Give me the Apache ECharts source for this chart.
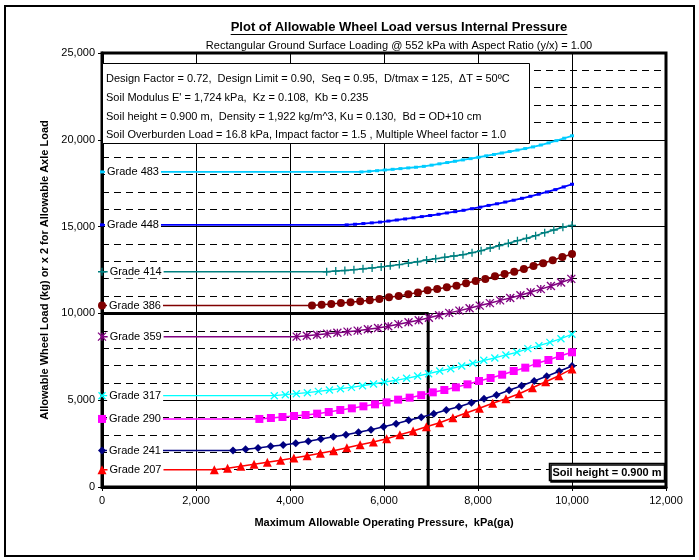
<!DOCTYPE html>
<html><head><meta charset="utf-8">
<script src="https://cdn.jsdelivr.net/npm/echarts@6/dist/echarts.min.js"></script>
<style>html,body{margin:0;padding:0;background:#fff}#c{width:699px;height:560px}</style>
</head><body><div id="c"></div>
<script>
// ---- Data ----
const xTicks = [0, 2000, 4000, 6000, 8000, 10000, 12000];
const yTicks = [0, 5000, 10000, 15000, 20000, 25000];

const g483X = [0, 5520, 5686, 5852, 6018, 6184, 6350, 6516, 6681, 6847, 7013, 7179, 7345, 7511, 7677, 7843, 8009, 8175, 8341, 8507, 8673, 8839, 9004, 9170, 9336, 9502, 9668, 9834, 10000];
const g483Y = [18150, 18150, 18185, 18220, 18260, 18300, 18340, 18380, 18420, 18470, 18540, 18615, 18690, 18765, 18840, 18915, 18995, 19075, 19155, 19240, 19325, 19410, 19495, 19590, 19700, 19820, 19950, 20090, 20230];

const g448X = [0, 5206, 5384, 5561, 5739, 5916, 6094, 6272, 6449, 6627, 6804, 6982, 7160, 7337, 7515, 7692, 7870, 8048, 8225, 8403, 8580, 8758, 8935, 9113, 9291, 9468, 9646, 9823, 10000];
const g448Y = [15100, 15100, 15135, 15175, 15215, 15260, 15320, 15380, 15440, 15505, 15575, 15640, 15710, 15785, 15860, 15940, 16030, 16120, 16220, 16315, 16415, 16520, 16630, 16745, 16865, 16995, 17130, 17285, 17440];

const g414X = [0, 4780, 4973, 5167, 5360, 5553, 5747, 5940, 6133, 6326, 6520, 6713, 6906, 7100, 7293, 7486, 7680, 7873, 8066, 8259, 8453, 8646, 8839, 9033, 9226, 9419, 9613, 9806, 10000];
const g414Y = [12400, 12400, 12440, 12470, 12520, 12570, 12620, 12680, 12740, 12810, 12900, 12975, 13076, 13152, 13230, 13307, 13383, 13498, 13613, 13767, 13901, 14036, 14190, 14325, 14478, 14651, 14805, 14958, 15074];

const g386X = [0, 4468, 4673, 4878, 5083, 5288, 5493, 5697, 5902, 6107, 6312, 6517, 6722, 6927, 7132, 7337, 7542, 7746, 7951, 8156, 8361, 8566, 8771, 8976, 9181, 9386, 9590, 9795, 10000];
const g386Y = [10450, 10450, 10503, 10541, 10599, 10637, 10695, 10753, 10829, 10925, 11002, 11110, 11210, 11329, 11406, 11502, 11598, 11733, 11866, 11982, 12136, 12270, 12404, 12558, 12730, 12885, 13057, 13249, 13422];

const g359X = [0, 4142, 4358, 4575, 4791, 5008, 5224, 5440, 5657, 5873, 6090, 6306, 6522, 6739, 6955, 7172, 7388, 7604, 7821, 8037, 8253, 8470, 8686, 8903, 9119, 9336, 9552, 9768, 9985];
const g359Y = [8660, 8660, 8717, 8775, 8833, 8890, 8948, 9006, 9083, 9159, 9260, 9380, 9486, 9610, 9750, 9890, 10030, 10160, 10300, 10450, 10590, 10750, 10890, 11050, 11220, 11400, 11580, 11780, 11990];

const g317X = [0, 3666, 3901, 4135, 4370, 4604, 4839, 5074, 5308, 5543, 5777, 6012, 6247, 6481, 6716, 6950, 7185, 7420, 7654, 7889, 8123, 8358, 8592, 8827, 9061, 9296, 9530, 9765, 10000];
const g317Y = [5260, 5260, 5318, 5376, 5434, 5510, 5587, 5664, 5741, 5837, 5933, 6048, 6144, 6260, 6394, 6528, 6682, 6816, 6970, 7124, 7297, 7431, 7604, 7758, 7969, 8141, 8333, 8544, 8800];

const g290X = [0, 3348, 3594, 3840, 4086, 4332, 4578, 4824, 5070, 5316, 5562, 5808, 6054, 6300, 6546, 6792, 7038, 7284, 7530, 7776, 8022, 8268, 8514, 8760, 9006, 9252, 9498, 9744, 10000];
const g290Y = [3920, 3920, 3975, 4032, 4090, 4147, 4224, 4320, 4435, 4531, 4647, 4762, 4877, 5031, 5146, 5290, 5453, 5587, 5741, 5914, 6106, 6279, 6470, 6682, 6874, 7124, 7316, 7546, 7760];

const g241X = [0, 2787, 3054, 3321, 3588, 3855, 4122, 4389, 4656, 4923, 5190, 5457, 5724, 5991, 6258, 6525, 6792, 7059, 7326, 7593, 7860, 8127, 8394, 8661, 8928, 9195, 9462, 9729, 10000];
const g241Y = [2100, 2100, 2170, 2247, 2343, 2419, 2516, 2631, 2765, 2900, 3015, 3150, 3303, 3475, 3648, 3840, 4020, 4224, 4435, 4627, 4857, 5086, 5300, 5570, 5835, 6106, 6377, 6665, 6970];

const g207X = [0, 2390, 2672, 2954, 3236, 3518, 3800, 4082, 4364, 4646, 4928, 5210, 5492, 5774, 6056, 6338, 6620, 6902, 7184, 7466, 7748, 8030, 8312, 8594, 8876, 9158, 9440, 9722, 10000];
const g207Y = [1000, 1000, 1075, 1190, 1305, 1420, 1536, 1670, 1804, 1940, 2091, 2265, 2438, 2592, 2784, 3015, 3230, 3475, 3705, 3993, 4263, 4533, 4821, 5086, 5374, 5720, 6066, 6411, 6800];

const limitX = [0, 6940, 6940];
const limitY = [10000, 10000, 0];

const titleText = 'Plot of Allowable Wheel Load versus Internal Pressure';
const subtitleText = 'Rectangular Ground Surface Loading @ 552 kPa with Aspect Ratio (y/x) = 1.00';
const infoLines = [
  'Design Factor = 0.72,  Design Limit = 0.90,  Seq = 0.95,  D/tmax = 125,  \u0394T = 50\u00BAC',
  "Soil Modulus E' = 1,724 kPa,  Kz = 0.108,  Kb = 0.235",
  'Soil height = 0.900 m,  Density = 1,922 kg/m^3, Ku = 0.130,  Bd = OD+10 cm',
  'Soil Overburden Load = 16.8 kPa, Impact factor = 1.5 , Multiple Wheel factor = 1.0'
];
const soilText = 'Soil height = 0.900 m';
const yName = 'Allowable Wheel Load (kg) or x 2 for Allowable Axle Load';
const xName = 'Maximum Allowable Operating Pressure,  kPa(ga)';

// ---- Chart ----
const FONT = '"Liberation Sans", Arial, Helvetica, sans-serif';
const chart = echarts.init(document.getElementById('c'), null, {renderer: 'canvas'});
const fmt = v => String(v).replace(/\B(?=(\d{3})+(?!\d))/g, ',');

const SYM_X = 'path://M0,0L10,10M10,0L0,10';
const SYM_STAR = 'path://M0,0L10,10M10,0L0,10M5,0L5,10';
const SYM_PLUS = 'path://M5,0L5,10M0,5L10,5';

function mk(name, xs, ys, color, symbol, size, lw, bw) {
  const data = xs.map((x, i) => i === 0 ? {
    value: [x, ys[i]],
    label: {show: true, position: 'right', distance: 1, formatter: name, color: '#000',
      fontSize: 11, fontFamily: FONT, backgroundColor: '#fff', padding: [1, 2, 1, 2]}
  } : [x, ys[i]]);
  return {
    type: 'line', name, data, symbol, symbolSize: size, showAllSymbol: true, clip: false,
    lineStyle: {color, width: lw},
    itemStyle: {color, borderColor: color, borderWidth: bw},
    label: {show: false}, emphasis: {disabled: true}, z: 3, animation: false
  };
}

const series = [
  {type: 'line', data: limitX.map((x, i) => [x, limitY[i]]), symbol: 'none',
   lineStyle: {color: '#000', width: 3}, z: 2, animation: false, emphasis: {disabled: true}},
  mk('Grade 483', g483X, g483Y, '#00CCFF', 'rect', [4, 3], 1.8, 0),
  mk('Grade 448', g448X, g448Y, '#0000FF', 'rect', [4, 3], 1.8, 0),
  mk('Grade 414', g414X, g414Y, '#008080', SYM_PLUS, 8, 1.5, 1.3),
  mk('Grade 386', g386X, g386Y, '#800000', 'circle', 8, 1.5, 0),
  mk('Grade 359', g359X, g359Y, '#800080', SYM_STAR, 8, 1.5, 1.3),
  mk('Grade 317', g317X, g317Y, '#00FFFF', SYM_X, 7, 1.3, 1.3),
  mk('Grade 290', g290X, g290Y, '#FF00FF', 'rect', 8, 1.5, 0),
  mk('Grade 241', g241X, g241Y, '#000080', 'diamond', 8, 1.5, 0),
  mk('Grade 207', g207X, g207Y, '#FF0000', 'triangle', 9, 1.5, 0)
];

// text measure for underline
const ctx = document.createElement('canvas').getContext('2d');
ctx.font = 'bold 13px ' + FONT;
const titleW = ctx.measureText(titleText).width;
const TCX = 399;

const graphic = [
  {type: 'rect', shape: {x: 5, y: 6, width: 689, height: 550}, style: {fill: 'none', stroke: '#000', lineWidth: 2}, z: 100, silent: true},
  {type: 'text', x: TCX, y: 27, style: {text: titleText, font: 'bold 13px ' + FONT, fill: '#000', textAlign: 'center', textVerticalAlign: 'middle'}, z: 100},
  {type: 'line', shape: {x1: TCX - titleW / 2, y1: 34.5, x2: TCX + titleW / 2, y2: 34.5}, style: {stroke: '#000', lineWidth: 1}, z: 100},
  {type: 'text', x: TCX, y: 46, style: {text: subtitleText, font: '11px ' + FONT, fill: '#000', textAlign: 'center', textVerticalAlign: 'middle'}, z: 100},
  {type: 'rect', shape: {x: 102.5, y: 63.5, width: 427, height: 80}, style: {fill: '#fff', stroke: '#000', lineWidth: 1}, z: 50},
  {type: 'rect', shape: {x: 549.5, y: 463.5, width: 115, height: 17}, style: {fill: '#fff', stroke: '#000', lineWidth: 1.5, shadowColor: '#000', shadowOffsetX: 1.5, shadowOffsetY: 1.5, shadowBlur: 0}, z: 50},
  {type: 'text', x: 607, y: 472.5, style: {text: soilText, font: 'bold 11px ' + FONT, fill: '#000', textAlign: 'center', textVerticalAlign: 'middle'}, z: 51}
];
infoLines.forEach((t, i) => {
  graphic.push({type: 'text', x: 106, y: 79 + i * 18.8, style: {text: t, font: '11px ' + FONT, fill: '#000', textAlign: 'left', textVerticalAlign: 'middle'}, z: 51});
});

chart.setOption({
  animation: false,
  backgroundColor: '#fff',
  textStyle: {fontFamily: FONT},
  grid: {left: 102, top: 53, right: 33, bottom: 73, show: true, borderColor: '#000', borderWidth: 3, backgroundColor: 'transparent'},
  xAxis: {
    type: 'value', min: xTicks[0], max: xTicks[xTicks.length - 1], interval: 2000,
    axisLine: {show: true, onZero: false, lineStyle: {color: '#000', width: 3}},
    axisTick: {show: true, inside: false, length: 4, lineStyle: {color: '#000', width: 1}},
    axisLabel: {color: '#000', fontSize: 11, fontFamily: FONT, margin: 8, formatter: v => fmt(v)},
    splitLine: {show: true, lineStyle: {color: '#000', width: 1}},
    name: xName, nameLocation: 'middle', nameGap: 30,
    nameTextStyle: {color: '#000', fontSize: 11, fontWeight: 'bold', fontFamily: FONT}
  },
  yAxis: {
    type: 'value', min: yTicks[0], max: yTicks[yTicks.length - 1], interval: 5000,
    axisLine: {show: true, onZero: false, lineStyle: {color: '#000', width: 3}},
    axisTick: {show: true, inside: false, length: 4, lineStyle: {color: '#000', width: 1}},
    axisLabel: {color: '#000', fontSize: 11, fontFamily: FONT, margin: 7, formatter: v => fmt(v)},
    splitLine: {show: true, lineStyle: {color: '#000', width: 1}},
    minorTick: {show: false, splitNumber: 5},
    minorSplitLine: {show: true, lineStyle: {color: '#000', width: 1, type: [7, 5]}},
    name: yName, nameLocation: 'middle', nameGap: 47, nameRotate: 90,
    nameTextStyle: {color: '#000', fontSize: 11, fontWeight: 'bold', fontFamily: FONT}
  },
  series,
  graphic
});
</script></body></html>
